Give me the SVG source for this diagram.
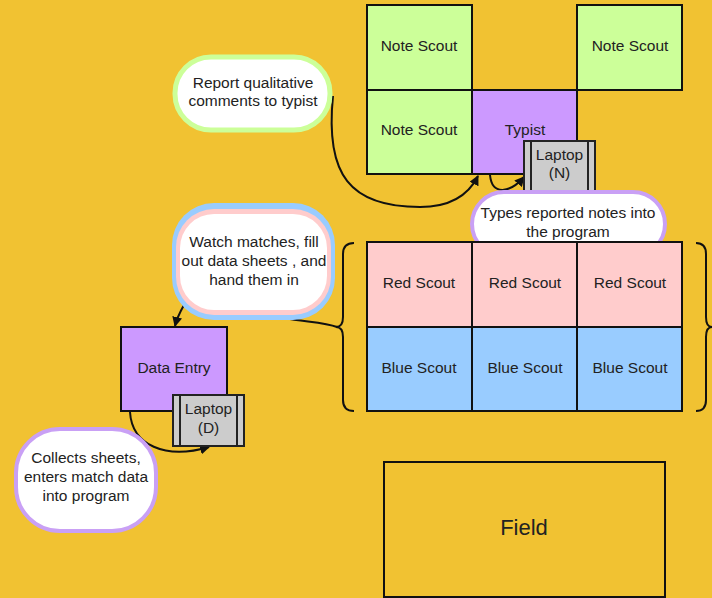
<svg xmlns="http://www.w3.org/2000/svg" width="712" height="598" viewBox="0 0 712 598">
  <defs>
    <marker id="arrow" viewBox="0 0 10 10" refX="9" refY="5" markerWidth="10" markerHeight="10" markerUnits="userSpaceOnUse" orient="auto">
      <path d="M0,0 L10,5 L0,10 Z" fill="#111"/>
    </marker>
    <style>
      text { font-family: "Liberation Sans", Arial, sans-serif; font-size: 15.5px; fill: #222; text-anchor: middle; }
      .box { stroke: #111; stroke-width: 2; }
      .green { fill: #CCFF99; }
      .purple { fill: #CC99FF; }
      .red { fill: #FFCCCC; }
      .blue { fill: #99CCFF; }
      .laptop { fill: #CCCCCC; stroke: #222; stroke-width: 2; }
      .bubble { fill: #FFFFFF; }
      .conn { fill: none; stroke: #111; stroke-width: 2; }
      .brace { fill: none; stroke: #111; stroke-width: 2; }
    </style>
  </defs>

  <rect x="0" y="0" width="712" height="598" fill="#F1C232"/>

  <!-- connectors -->
  <g id="connectors">
    <path class="conn" d="M333,96 C325,175 350,207 420,207 C455,207 470,192 478,176" marker-end="url(#arrow)"/>
    <path class="conn" d="M490,175 C492,196 510,193 524,177" marker-end="url(#arrow)"/>
    <path class="conn" d="M284,318 C305,322 325,322 337,327"/>
    <path class="conn" d="M184,305 C180,312 177,318 175,326" marker-end="url(#arrow)"/>
    <path class="conn" d="M130,412 C132,445 165,460 209,447" marker-end="url(#arrow)"/>
  </g>

  <!-- note scouts and typist -->
  <g id="note-scout-1"><rect class="box green" x="367" y="5" width="105" height="85"/><text x="419" y="51">Note Scout</text></g>
  <g id="note-scout-2"><rect class="box green" x="577" y="5" width="105" height="85"/><text x="630" y="51">Note Scout</text></g>
  <g id="note-scout-3"><rect class="box green" x="367" y="90" width="105" height="84"/><text x="419" y="135">Note Scout</text></g>
  <g id="typist"><rect class="box purple" x="472" y="90" width="105" height="84"/><text x="525" y="135">Typist</text></g>

  <g id="laptop-n">
    <rect class="laptop" x="524" y="141" width="71" height="52"/>
    <line class="laptop" x1="531" y1="141" x2="531" y2="193"/>
    <line class="laptop" x1="588" y1="141" x2="588" y2="193"/>
    <text x="559.5" y="160">Laptop</text>
    <text x="559.5" y="178">(N)</text>
  </g>

  <g id="types-bubble">
    <rect class="bubble" x="472" y="192" width="193" height="64" rx="32" stroke="#C9A0F5" stroke-width="4"/>
    <text x="568" y="218">Types reported notes into</text>
    <text x="568" y="237">the program</text>
  </g>

  <g id="report-bubble">
    <rect class="bubble" x="175" y="57" width="155" height="73" rx="36" stroke="#CCFF99" stroke-width="5"/>
    <text x="253" y="88">Report qualitative</text>
    <text x="253" y="106">comments to typist</text>
  </g>

  <!-- red and blue scouts -->
  <g id="red-scout-1"><rect class="box red" x="367" y="242" width="105" height="85"/><text x="419" y="288">Red Scout</text></g>
  <g id="red-scout-2"><rect class="box red" x="472" y="242" width="105" height="85"/><text x="525" y="288">Red Scout</text></g>
  <g id="red-scout-3"><rect class="box red" x="577" y="242" width="105" height="85"/><text x="630" y="288">Red Scout</text></g>
  <g id="blue-scout-1"><rect class="box blue" x="367" y="327" width="105" height="84"/><text x="419" y="373">Blue Scout</text></g>
  <g id="blue-scout-2"><rect class="box blue" x="472" y="327" width="105" height="84"/><text x="525" y="373">Blue Scout</text></g>
  <g id="blue-scout-3"><rect class="box blue" x="577" y="327" width="105" height="84"/><text x="630" y="373">Blue Scout</text></g>

  <!-- braces around the scout grid -->
  <g id="brace-left">
    <path class="brace" d="M354,243 Q343,243 343,254 L343,317 Q343,327 336,327 Q343,327 343,337 L343,400 Q343,411 354,411"/>
  </g>
  <g id="brace-right">
    <path class="brace" d="M696,243 Q706,243 706,254 L706,317 Q706,327 712,327 Q706,327 706,337 L706,400 Q706,411 696,411"/>
  </g>

  <g id="watch-bubble">
    <rect x="172" y="203" width="163" height="117" rx="42" fill="#99CCFF"/>
    <rect x="176" y="209" width="155" height="106" rx="38" fill="#FFCCCC"/>
    <rect x="180" y="214" width="147" height="96" rx="34" fill="#FFFFFF"/>
    <text x="254" y="247">Watch matches, fill</text>
    <text x="254" y="266">out data sheets , and</text>
    <text x="254" y="285">hand them in</text>
  </g>

  <g id="data-entry"><rect class="box purple" x="121" y="327" width="106" height="84"/><text x="174" y="373">Data Entry</text></g>

  <g id="laptop-d">
    <rect class="laptop" x="173" y="395" width="71" height="51"/>
    <line class="laptop" x1="180" y1="395" x2="180" y2="446"/>
    <line class="laptop" x1="237" y1="395" x2="237" y2="446"/>
    <text x="208.5" y="414">Laptop</text>
    <text x="208.5" y="433">(D)</text>
  </g>

  <g id="collects-bubble">
    <rect class="bubble" x="16" y="429" width="140" height="102" rx="44" stroke="#C9A0F5" stroke-width="4"/>
    <text x="86" y="463">Collects sheets,</text>
    <text x="86" y="482">enters match data</text>
    <text x="86" y="501">into program</text>
  </g>

  <g id="field">
    <rect class="box" x="384" y="462" width="281" height="135" fill="none"/>
    <text x="524" y="535" style="font-size:22px">Field</text>
  </g>
</svg>
